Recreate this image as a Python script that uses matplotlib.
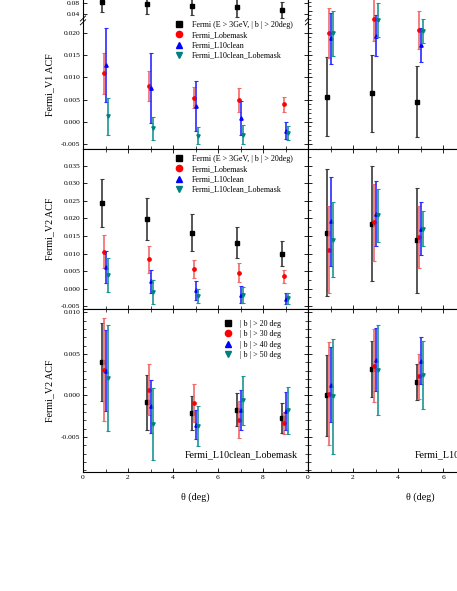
import matplotlib.pyplot as plt
from matplotlib.lines import Line2D
from matplotlib.ticker import MultipleLocator, FixedLocator, FormatStrFormatter, NullFormatter
import numpy as np

plt.rcParams['font.family'] = ['Liberation Serif', 'DejaVu Serif']

W, H = 457, 591

# ---- data ----
theta = np.array([1, 3, 5, 7, 9])
theta_r = np.array([1, 3, 5])

# Fermi_V1 ACF (top left), black series lives on the broken upper part
v1_black = [0.0835, 0.0754, 0.0694, 0.0637, 0.0540]
v1_black_err = [0.0355, 0.0350, 0.0330, 0.0330, 0.0270]
v1_red = [0.0109, 0.0081, 0.0055, 0.0049, 0.0040]
v1_red_err = [0.0047, 0.0034, 0.0023, 0.0027, 0.0017]
v1_blue = [0.0128, 0.0076, 0.0036, 0.0010, -0.0019]
v1_blue_err = [0.0082, 0.0078, 0.0055, 0.0038, 0.0018]
v1_teal = [0.0013, -0.0014, -0.0031, -0.0028, -0.0025]
v1_teal_err = [0.0042, 0.0026, 0.0019, 0.0021, 0.0015]

# top right
r1_black = [0.0057, 0.0064, 0.0046]
r1_black_err = [0.0088, 0.0087, 0.0079]
r1_red = [0.0199, 0.0231, 0.0207]
r1_red_err = [0.0056, 0.0050, 0.0043]
r1_blue = [0.0188, 0.0194, 0.0173]
r1_blue_err = [0.0057, 0.0047, 0.0038]
r1_teal = [0.0199, 0.0228, 0.0204]
r1_teal_err = [0.0051, 0.0038, 0.0026]

# Fermi_V2 ACF (middle left)
v2_black = [0.0244, 0.0198, 0.0160, 0.0131, 0.0100]
v2_black_err = [0.0069, 0.0059, 0.0052, 0.0044, 0.0036]
v2_red = [0.0105, 0.0084, 0.0055, 0.0045, 0.0035]
v2_red_err = [0.0047, 0.0038, 0.0026, 0.0027, 0.0019]
v2_blue = [0.0062, 0.0021, -0.0005, -0.0017, -0.0029]
v2_blue_err = [0.0046, 0.0032, 0.0028, 0.0025, 0.0016]
v2_teal = [0.0038, -0.0010, -0.0021, -0.0019, -0.0027]
v2_teal_err = [0.0048, 0.0034, 0.0020, 0.0023, 0.0016]

# middle right
r2_black = [0.0160, 0.0185, 0.0138]
r2_black_err = [0.0180, 0.0164, 0.0150]
r2_red = [0.0111, 0.0189, 0.0147]
r2_red_err = [0.0124, 0.0110, 0.0088]
r2_blue = [0.0192, 0.0214, 0.0171]
r2_blue_err = [0.0127, 0.0092, 0.0076]
r2_teal = [0.0140, 0.0209, 0.0171]
r2_teal_err = [0.0107, 0.0075, 0.0050]

# Fermi_V2 ACF, L10clean_Lobemask, latitude cuts (bottom left)
b20 = [0.0040, -0.0008, -0.0021, -0.0017, -0.0027]
b20_err = [0.0047, 0.0033, 0.0020, 0.0020, 0.0018]
b30 = [0.0031, 0.0007, -0.0009, -0.0029, -0.0033]
b30_err = [0.0062, 0.0031, 0.0023, 0.0022, 0.0013]
b40 = [0.0030, -0.0013, -0.0035, -0.0017, -0.0019]
b40_err = [0.0049, 0.0032, 0.0017, 0.0024, 0.0023]
b50 = [0.0021, -0.0034, -0.0037, -0.0006, -0.0018]
b50_err = [0.0064, 0.0043, 0.0024, 0.0030, 0.0028]

# bottom right
rb20 = [0.0000, 0.0032, 0.0016]
rb20_err = [0.0049, 0.0034, 0.0022]
rb30 = [0.0002, 0.0036, 0.0023]
rb30_err = [0.0062, 0.0044, 0.0027]
rb40 = [0.0013, 0.0043, 0.0042]
rb40_err = [0.0045, 0.0038, 0.0028]
rb50 = [-0.0001, 0.0031, 0.0025]
rb50_err = [0.0069, 0.0054, 0.0041]

x_ticks = [0, 2, 4, 6, 8]
upper_ticks = [0.04, 0.08]

labels_src = ['Fermi (E > 3GeV, | b | > 20deg)', 'Fermi_Lobemask',
              'Fermi_L10clean', 'Fermi_L10clean_Lobemask']
labels_lat = ['| b | > 20 deg', '| b | > 30 deg', '| b | > 40 deg', '| b | > 50 deg']

colors = ['black', '#ff0000', '#0000ff', '#008080']
ecolors = ['#3a3a3a', '#f26a6a', '#2a2aff', '#1c9595']
markers = ['s', 'o', '^', 'v']
offsets = [-0.17, -0.07, 0.03, 0.12]


def px_axes(x0, y0, x1, y1):
    return fig.add_axes([x0 / W, 1 - y1 / H, (x1 - x0) / W, (y1 - y0) / H])


def draw(ax, x, y, err, i):
    ax.errorbar(np.asarray(x) + offsets[i], y, yerr=err, fmt=markers[i], ms=2.4,
                color=colors[i], ecolor=ecolors[i], elinewidth=1.2,
                capsize=1.6, capthick=0.8, zorder=3 + i)


def style(ax, left_labels=True, bottom_labels=False):
    ax.set_xlim(0, 10)
    ax.xaxis.set_major_locator(FixedLocator(x_ticks))
    ax.xaxis.set_minor_locator(MultipleLocator(1))
    ax.tick_params(which='both', direction='in', top=True, right=True,
                   labelsize=5.4, pad=2)
    ax.tick_params(which='major', length=3, width=0.6)
    ax.tick_params(which='minor', length=2, width=0.5)
    for s in ax.spines.values():
        s.set_linewidth(0.8)
    if not bottom_labels:
        ax.xaxis.set_major_formatter(NullFormatter())
    if not left_labels:
        ax.yaxis.set_major_formatter(NullFormatter())


def legend(ax, labels, x, y, pad):
    handles = [Line2D([], [], ls='none', marker=markers[i], color=colors[i], ms=4.5)
               for i in range(4)]
    ax.legend(handles, labels, loc='upper left', bbox_to_anchor=(x / W, 1 - y / H),
              bbox_transform=fig.transFigure, frameon=False, fontsize=5.8,
              handlelength=1.0, handletextpad=pad, labelspacing=0.28,
              borderpad=0, borderaxespad=0)


fig = plt.figure(figsize=(W / 100, H / 100), dpi=100)

# ---- top row ----
ax_up = px_axes(83, -30, 308, 20)
ax1 = px_axes(83, 20, 308, 149)
ax1r = px_axes(308, -30, 533, 149)

draw(ax_up, theta, v1_black, v1_black_err, 0)
for i, (y, e) in enumerate([(v1_red, v1_red_err), (v1_blue, v1_blue_err),
                            (v1_teal, v1_teal_err)]):
    draw(ax1, theta, y, e, i + 1)
for i, (y, e) in enumerate([(r1_black, r1_black_err), (r1_red, r1_red_err),
                            (r1_blue, r1_blue_err), (r1_teal, r1_teal_err)]):
    draw(ax1r, theta_r, y, e, i)

style(ax_up)
ax_up.set_ylim(0.0188, 0.1958)
ax_up.yaxis.set_major_locator(FixedLocator(upper_ticks))
ax_up.yaxis.set_major_formatter(FormatStrFormatter('%.2f'))
ax_up.spines['bottom'].set_visible(False)
ax_up.tick_params(which='both', bottom=False)

style(ax1)
ax1.set_ylim(-0.00605, 0.0229)
ax1.yaxis.set_major_locator(MultipleLocator(0.005))
ax1.yaxis.set_major_formatter(FormatStrFormatter('%.3f'))
ax1.spines['top'].set_visible(False)
ax1.tick_params(which='both', top=False)
ax1.set_ylabel('Fermi_V1 ACF', fontsize=7.2, labelpad=5)

style(ax1r, left_labels=False)
ax1r.set_ylim(-0.00605, 0.0341)
ax1r.yaxis.set_major_locator(MultipleLocator(0.005))
ax1r.yaxis.set_minor_locator(MultipleLocator(0.001))

# axis break marks
for xb in (0.0, 1.0):
    for dy in (-0.018, 0.012):
        ax1.plot([xb - 0.012, xb + 0.012], [1 + dy - 0.02, 1 + dy + 0.02],
                 transform=ax1.transAxes, color='black', lw=0.6, clip_on=False, zorder=10)

legend(ax1, labels_src, 175, 21, 1.05)

# ---- middle row ----
ax2 = px_axes(83, 149, 308, 309)
ax2r = px_axes(308, 149, 533, 309)
for i, (y, e) in enumerate([(v2_black, v2_black_err), (v2_red, v2_red_err),
                            (v2_blue, v2_blue_err), (v2_teal, v2_teal_err)]):
    draw(ax2, theta, y, e, i)
for i, (y, e) in enumerate([(r2_black, r2_black_err), (r2_red, r2_red_err),
                            (r2_blue, r2_blue_err), (r2_teal, r2_teal_err)]):
    draw(ax2r, theta_r, y, e, i)

style(ax2)
ax2.set_ylim(-0.0058, 0.0398)
ax2.yaxis.set_major_locator(MultipleLocator(0.005))
ax2.yaxis.set_major_formatter(FormatStrFormatter('%.3f'))
ax2.set_ylabel('Fermi_V2 ACF', fontsize=7.2, labelpad=5)
style(ax2r, left_labels=False)
ax2r.set_ylim(-0.0058, 0.0398)
ax2r.yaxis.set_major_locator(MultipleLocator(0.005))
ax2r.yaxis.set_minor_locator(MultipleLocator(0.0025))
legend(ax2, labels_src, 175, 155, 1.05)

# ---- bottom row ----
ax3 = px_axes(83, 309, 308, 472)
ax3r = px_axes(308, 309, 533, 472)
for i, (y, e) in enumerate([(b20, b20_err), (b30, b30_err),
                            (b40, b40_err), (b50, b50_err)]):
    draw(ax3, theta, y, e, i)
for i, (y, e) in enumerate([(rb20, rb20_err), (rb30, rb30_err),
                            (rb40, rb40_err), (rb50, rb50_err)]):
    draw(ax3r, theta_r, y, e, i)

style(ax3, bottom_labels=True)
ax3.set_ylim(-0.0092, 0.0104)
ax3.yaxis.set_major_locator(MultipleLocator(0.005))
ax3.yaxis.set_minor_locator(MultipleLocator(0.001))
ax3.yaxis.set_major_formatter(FormatStrFormatter('%.3f'))
ax3.set_ylabel('Fermi_V2 ACF', fontsize=7.2, labelpad=5)
ax3.set_xlabel('θ (deg)', fontsize=7.2, labelpad=9)
ax3.text(0.955, 0.105, 'Fermi_L10clean_Lobemask', transform=ax3.transAxes,
         ha='right', va='center', fontsize=7.2)

style(ax3r, left_labels=False, bottom_labels=True)
ax3r.set_ylim(-0.0092, 0.0104)
ax3r.yaxis.set_major_locator(MultipleLocator(0.005))
ax3r.yaxis.set_minor_locator(MultipleLocator(0.001))
ax3r.set_xlabel('θ (deg)', fontsize=7.2, labelpad=9)
ax3r.text(0.476, 0.105, 'Fermi_L10clean', transform=ax3r.transAxes,
          ha='left', va='center', fontsize=7.2)
legend(ax3, labels_lat, 224, 320, 0.95)

fig.savefig('out.png', dpi=100)
